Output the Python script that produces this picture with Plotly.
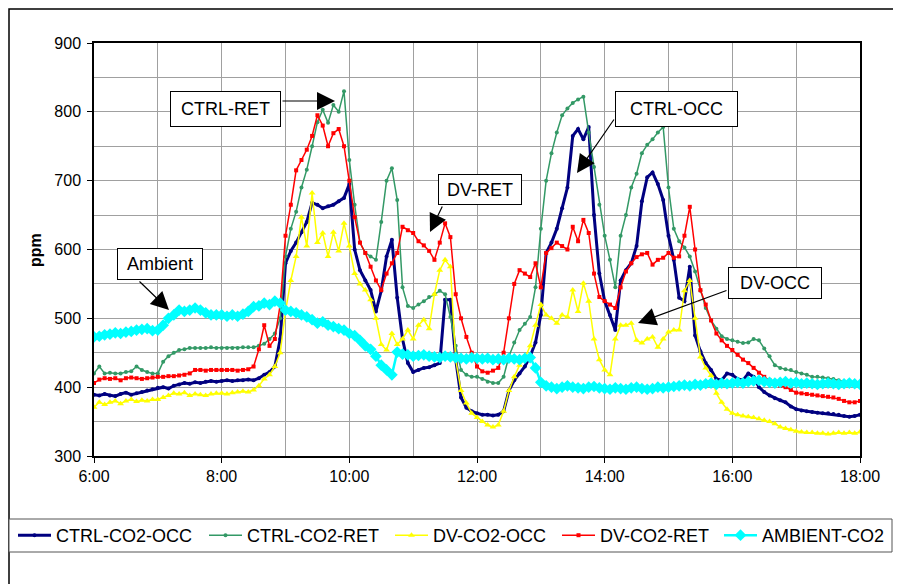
import plotly.graph_objects as go

# ---- data (5-minute readings, 6:00 to 18:00) ----
START_HOUR = 6
STEP_MIN = 5

ctrl_co2_occ = [
    389, 388, 390, 388, 387, 390, 392, 389, 391, 393, 395, 397,
    399, 400, 398, 402, 404, 406, 405, 407, 406, 408, 409, 408,
    409, 410, 409, 410, 410, 411, 410, 413, 418, 422, 430, 470,
    580, 598, 610, 625, 640, 668, 665, 660, 663, 665, 670, 675,
    695, 600, 570, 555, 541, 510, 540, 590, 614, 530, 470, 435,
    422, 425, 428, 429, 432, 435, 527, 527, 440, 385, 370, 365,
    362, 360, 360, 359, 360, 365, 395, 410, 420, 430, 445, 465,
    505, 595, 610, 630, 660, 690, 765, 775, 760, 778, 650, 565,
    525, 505, 483, 555, 570, 580, 605, 670, 705, 712, 695, 672,
    620, 585, 530, 525, 575, 475, 452, 435, 425, 412, 410, 420,
    418, 412, 410, 420, 415, 400, 393, 388, 384, 381, 378, 372,
    368, 366, 365, 364, 363, 362, 362, 361, 360, 358, 357, 358,
    360,
]

ctrl_co2_ret = [
    420, 430, 420, 421, 420, 420, 422, 423, 430, 425, 422, 420,
    420, 437, 445, 450, 454, 455, 457, 457, 457, 457, 458, 457,
    457, 457, 457, 457, 458, 458, 458, 460, 463, 470, 478, 500,
    590, 630, 655, 690, 716, 750, 785, 803, 784, 810, 800, 830,
    730, 665, 610, 595, 590, 585, 640, 700, 718, 672, 545, 518,
    515, 520, 525, 531, 535, 540, 535, 502, 460, 425, 418, 415,
    415, 412, 408, 406, 406, 415, 445, 465, 483, 492, 502, 545,
    630, 700, 740, 770, 795, 805, 813, 818, 822, 770, 720, 665,
    620, 585, 545, 620, 650, 690, 710, 740, 752, 760, 770, 778,
    690, 630, 612, 603, 590, 568, 540, 515, 497, 485, 474, 470,
    468, 466, 464, 465, 470, 468, 456, 445, 432, 428, 426, 425,
    422, 420, 418, 415, 415, 414, 413, 412, 410, 408, 407, 406,
    405,
]

dv_co2_occ = [
    371, 378, 375, 378, 380, 376, 380, 382, 379, 381, 380, 382,
    382, 385, 388, 391, 390, 392, 388, 390, 389, 388, 390, 391,
    391, 390, 392, 393, 394, 393, 396, 402, 412, 418, 430, 450,
    510, 555, 590, 647, 605, 682, 610, 624, 590, 625, 598, 638,
    605, 565, 550, 541, 527, 500, 462, 454, 478, 462, 470, 483,
    470, 490, 498, 485, 535, 570, 585, 575, 440, 395, 377, 362,
    356, 350, 345, 342, 345, 365, 395, 415, 432, 442, 460, 490,
    520, 505, 500, 493, 505, 502, 541, 510, 551, 525, 470, 440,
    425, 418, 470, 490, 490, 493, 468, 464, 470, 473, 458, 470,
    480, 483, 483, 540, 555, 500, 444, 428, 417, 391, 378, 368,
    362, 360, 358, 357, 356, 354, 352, 350, 347, 342, 340, 338,
    336, 335, 334, 334, 333, 333, 332, 333, 334, 333, 334, 333,
    335,
]

dv_co2_ret = [
    406, 411, 413, 412, 413, 410, 413, 414, 413, 412, 413, 414,
    415, 415, 416, 416, 417, 418, 420, 425, 425, 424, 425, 425,
    425, 425, 425, 424, 425, 426, 430, 455, 490, 460, 470, 520,
    620, 665, 715, 730, 745, 765, 795, 780, 750, 769, 775, 750,
    700, 647, 610, 595, 575, 555, 541, 565, 580, 595, 633, 628,
    624, 612, 606, 598, 585, 610, 638, 618, 535, 500, 473, 450,
    430, 423, 421, 424, 428, 450, 500, 550, 570, 565, 560, 580,
    545, 595, 602, 610, 605, 600, 633, 612, 643, 624, 565, 531,
    525, 520, 515, 545, 568, 580, 589, 593, 595, 578, 585, 588,
    595, 588, 590, 620, 662, 600, 541, 520, 497, 478, 468, 460,
    454, 447, 440, 435, 428, 421, 415, 410, 405, 402, 400, 396,
    392, 391, 390, 389, 388, 387, 386, 385, 383, 380, 378, 378,
    380,
]

ambient_co2 = [
    473, 474, 476, 477, 479, 478, 480, 481, 483, 484, 485, 482,
    483, 490, 500, 505, 512, 510, 512, 515, 512, 508, 505, 505,
    505, 503, 505, 503, 506, 510, 517, 518, 522, 520, 525, 522,
    512, 510, 508, 505, 502, 498, 493, 495, 490, 488, 485, 483,
    478, 475, 468, 460, 455, 445, 432, 425, 418, 451, 448, 447,
    445, 446, 447, 445, 444, 443, 445, 444, 443, 442, 441, 443,
    442, 441, 442, 440, 441, 440, 442, 441, 440, 442, 443, 428,
    407, 402, 400, 398, 400, 402, 400, 399, 398, 400, 401, 399,
    398, 397, 399, 398, 397, 399, 400, 398, 397, 398, 400, 399,
    400, 401, 402, 403, 402, 404, 403, 405, 406, 404, 406, 405,
    406, 407, 406, 408, 409, 410, 408, 407, 406, 407, 408, 406,
    407, 405, 406, 405, 404, 405, 406, 405, 404, 405, 406, 405,
    404,
]

tick_hours = [6, 8, 10, 12, 14, 16, 18]
tick_labels = ["6:00", "8:00", "10:00", "12:00", "14:00", "16:00", "18:00"]

hours = [START_HOUR + i * STEP_MIN / 60 for i in range(len(ctrl_co2_occ))]

FONT = "Arial, Liberation Sans, sans-serif"

# the page body adds an 8px offset; work in page pixels and shift
OFF = 8
FIG_W, FIG_H = 901 - OFF, 584 - OFF
# plot-area in page pixels
L, R, T, B = 94, 860, 43, 456
PW, PH = R - L, B - T


def px(xp):
    return (xp - L) / PW


def py(yp):
    return (B - yp) / PH


# series styling and legend-entry start (page px)
series = [
    ("CTRL-CO2-OCC", ctrl_co2_occ, "#000080", 3, "circle", 4, 13),
    ("CTRL-CO2-RET", ctrl_co2_ret, "#339966", 1.5, "circle", 4, 204),
    ("DV-CO2-OCC", dv_co2_occ, "#FFFF00", 1.5, "triangle-up", 6, 390),
    ("DV-CO2-RET", dv_co2_ret, "#FF0000", 1.5, "square", 4, 557),
    ("AMBIENT-CO2", ambient_co2, "#00FFFF", 2.5, "diamond", 9, 719),
]

fig = go.Figure()
legends = {}
for i, (name, vals, color, lw, sym, msize, lx) in enumerate(series):
    lname = "legend" if i == 0 else f"legend{i + 1}"
    fig.add_trace(go.Scatter(x=hours, y=vals, name=name, mode="lines+markers",
                             line=dict(color=color, width=lw),
                             marker=dict(symbol=sym, size=msize, color=color),
                             legend=lname))
    legends[lname] = dict(orientation="h", x=px(lx), y=py(535.5), xanchor="left", yanchor="middle",
                          borderwidth=0, bgcolor="rgba(0,0,0,0)",
                          font=dict(size=18, family=FONT, color="black"),
                          itemwidth=33, tracegroupgap=0)

GRID = "#a0a0a0"
fig.update_layout(
    width=FIG_W, height=FIG_H,
    margin=dict(l=L - OFF, r=901 - R, t=T - OFF, b=584 - B, autoexpand=False),
    paper_bgcolor="white", plot_bgcolor="white",
    font=dict(family=FONT, color="black"),
    showlegend=True,
    xaxis=dict(range=[6, 18], tickvals=tick_hours, ticktext=tick_labels,
               showgrid=True, gridcolor=GRID, gridwidth=1,
               minor=dict(dtick=1, showgrid=True, gridcolor=GRID, gridwidth=1, ticks=""),
               showline=True, linecolor="black", linewidth=1.5, mirror=True,
               ticks="outside", ticklen=5, tickcolor="black",
               tickfont=dict(size=16), zeroline=False),
    yaxis=dict(range=[300, 900], dtick=100, tick0=300,
               showgrid=True, gridcolor=GRID, gridwidth=1,
               minor=dict(dtick=50, showgrid=True, gridcolor=GRID, gridwidth=1, ticks=""),
               showline=True, linecolor="black", linewidth=1.5, mirror=True,
               ticks="outside", ticklen=5, tickcolor="black", ticklabelstandoff=3,
               tickfont=dict(size=16), zeroline=False),
    **legends,
)

# outer chart border (left/top edges at the figure edge)
fig.add_shape(type="rect", xref="paper", yref="paper",
              x0=px(OFF + 1), x1=px(915), y0=py(600), y1=py(OFF + 1),
              line=dict(color="black", width=1.5), fillcolor="rgba(0,0,0,0)", layer="below")
# legend box
fig.add_shape(type="rect", xref="paper", yref="paper",
              x0=px(OFF + 1), x1=px(892), y0=py(552), y1=py(519),
              line=dict(color="#555555", width=1), fillcolor="white", layer="below")

# y title
fig.add_annotation(xref="paper", yref="paper", x=px(35), y=py(250), text="<b>ppm</b>",
                   textangle=-90, showarrow=False, xanchor="center", yanchor="middle",
                   font=dict(size=16, family=FONT))

# labelled boxes: (text, center_x, center_y, width, height) in page pixels
boxes = [
    ("CTRL-RET", 225.5, 109, 111, 36),
    ("DV-RET", 480, 189.5, 84, 31),
    ("CTRL-OCC", 676.5, 109, 123, 36),
    ("DV-OCC", 775, 283, 94, 32),
    ("Ambient", 160, 264, 86, 32),
]
for text, cx, cy, w, h in boxes:
    fig.add_annotation(xref="paper", yref="paper", x=px(cx), y=py(cy), text=text,
                       showarrow=False, xanchor="center", yanchor="middle",
                       width=w - 8, height=h - 8, borderpad=3,
                       bordercolor="black", borderwidth=1, bgcolor="white",
                       font=dict(size=18, family=FONT, color="black"))

# arrows: (tail_x, tail_y, tip_x, tip_y) in page pixels
arrows = [
    (281, 101, 335, 101),
    (443, 205, 430, 232),
    (615, 118, 577, 173),
    (728, 290, 638, 323),
    (138, 280, 169, 310),
]
for tx, ty, hx, hy in arrows:
    fig.add_annotation(xref="paper", yref="paper", x=px(hx), y=py(hy), text="",
                       showarrow=True, ax=tx - hx, ay=ty - hy,
                       arrowhead=2, arrowsize=3, arrowwidth=1.2, arrowcolor="black")

fig.write_html("out.html")
